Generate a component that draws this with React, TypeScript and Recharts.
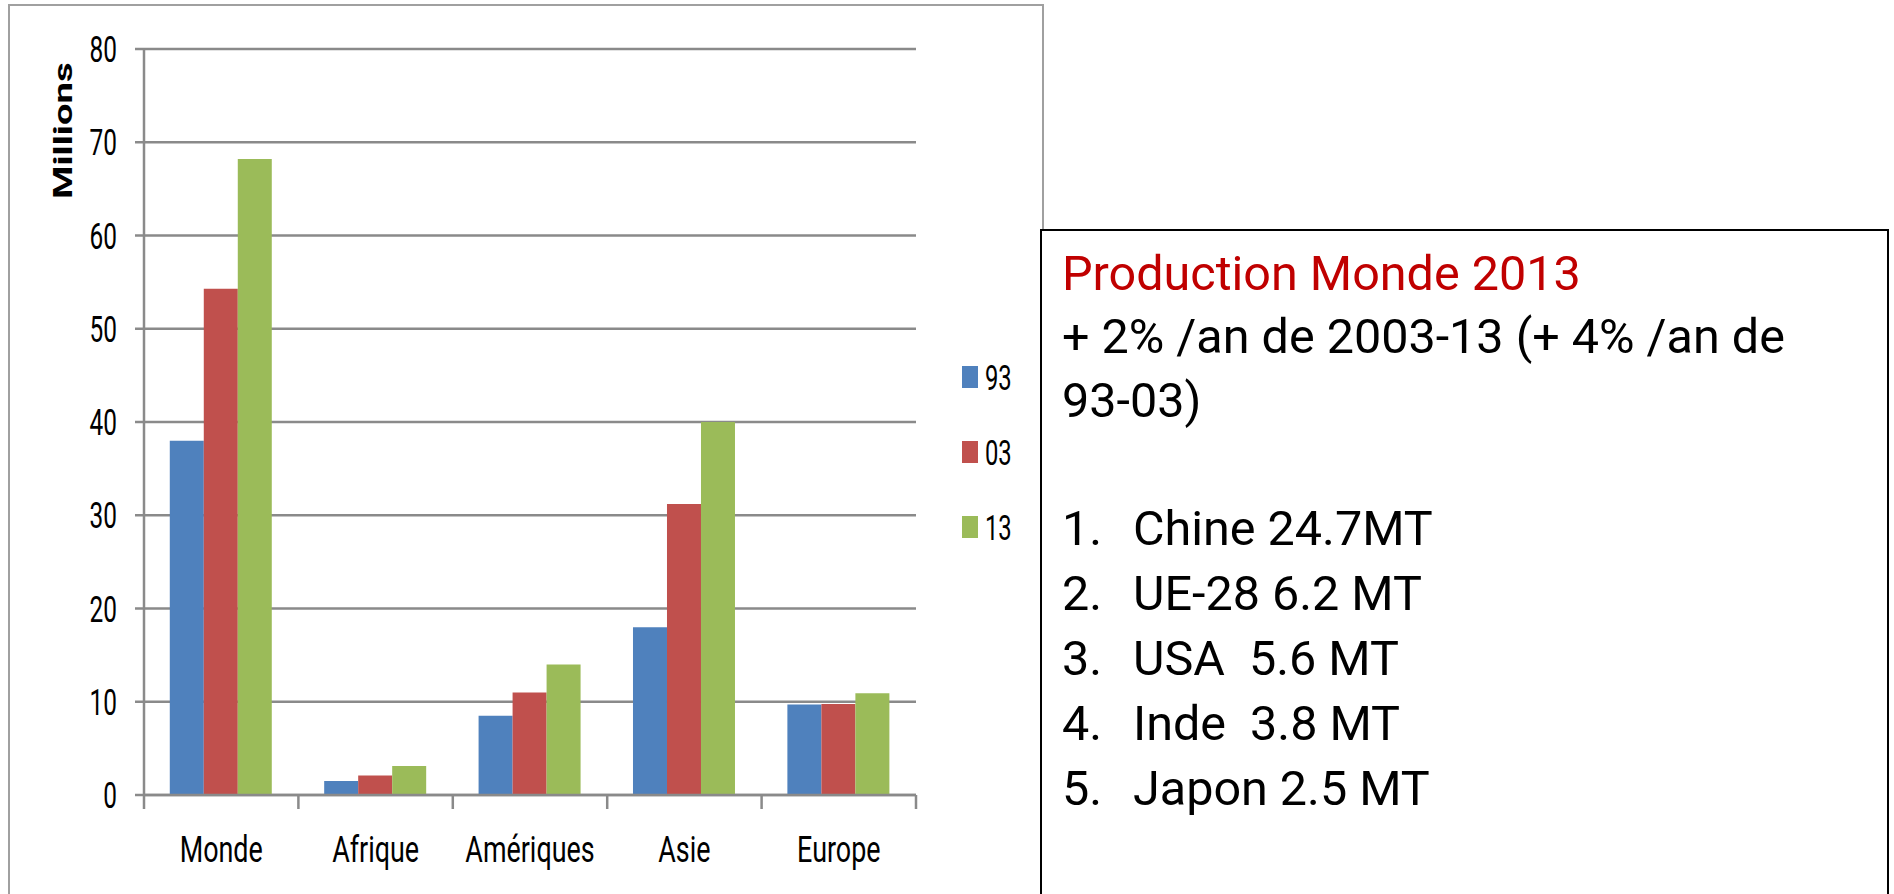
import { BarChart, Bar, XAxis, YAxis, CartesianGrid, Legend } from 'recharts';

const categories = ['Monde', 'Afrique', 'Amériques', 'Asie', 'Europe'];
const values93 = [38, 1.5, 8.5, 18, 9.7];
const values03 = [54.3, 2.1, 11, 31.2, 9.75];
const values13 = [68.2, 3.1, 14, 40, 10.9];
const yTicks = [0, 10, 20, 30, 40, 50, 60, 70, 80];

const seriesNames = ['93', '03', '13'];
const seriesColors = ['#4F81BD', '#C0504D', '#9BBB59'];
const seriesKeys = ['v93', 'v03', 'v13'];

const title = 'Production Monde 2013';
const subtitleLines = ['+ 2% /an de 2003-13 (+ 4% /an de', '93-03)'];
const rankNums = ['1.', '2.', '3.', '4.', '5.'];
const rankItems = ['Chine 24.7MT', 'UE-28 6.2 MT', 'USA  5.6 MT', 'Inde  3.8 MT', 'Japon 2.5 MT'];

const data = categories.map((cat, i) => ({
  cat,
  v93: values93[i],
  v03: values03[i],
  v13: values13[i],
}));

const GRAY = '#8a8a8a';
const FONT = 'Roboto, "Liberation Sans", sans-serif';

function CategoryTick(props: any) {
  const { x, y, payload, index } = props;
  const half = payload.offset ?? 77.2;
  const last = index === categories.length - 1;
  return (
    <g>
      <line x1={x - half} x2={x - half} y1={y} y2={y + 14} stroke={GRAY} strokeWidth={2.5} />
      {last && <line x1={x + half} x2={x + half} y1={y} y2={y + 14} stroke={GRAY} strokeWidth={2.5} />}
      <text
        transform={`translate(${x},${y + 66.7}) scale(1,1.34)`}
        textAnchor="middle"
        fontSize={26.9}
        fontFamily={FONT}
        fill="#000"
      >
        {payload.value}
      </text>
    </g>
  );
}

function ValueTick(props: any) {
  const { x, y, payload } = props;
  return (
    <text
      transform={`translate(${x},${y}) scale(1,1.52)`}
      textAnchor="end"
      dy="0.355em"
      fontSize={24.4}
      fontFamily={FONT}
      fill="#000"
    >
      {payload.value}
    </text>
  );
}

function AxisTitle(props: any) {
  const vb = props.viewBox || { x: 0, y: 49 };
  return (
    <text
      transform={`translate(${vb.x + 62.5},${vb.y + 81.7}) scale(1,1.47) rotate(-90)`}
      textAnchor="middle"
      dy="0.355em"
      fontSize={26}
      fontWeight="bold"
      fontFamily={FONT}
      fill="#000"
    >
      Millions
    </text>
  );
}

// legend drawn in series order (93, 03, 13), rows 75px apart
function LegendBox() {
  return (
    <svg width={70} height={200} style={{ display: 'block' }}>
      {seriesNames.map((name, i) => (
        <g key={name} transform={`translate(0,${10 + i * 75})`}>
          <rect x={0} y={0} width={16} height={22} fill={seriesColors[i]} />
          <text
            transform="translate(23,11) scale(1,1.48)"
            dy="0.355em"
            fontSize={23.8}
            fontFamily={FONT}
            fill="#000"
          >
            {name}
          </text>
        </g>
      ))}
    </svg>
  );
}

export default function App() {
  return (
    <div style={{ position: 'absolute', left: 0, top: 0, width: 1894, height: 894, overflow: 'hidden', background: '#fff' }}>
      <div
        style={{
          position: 'absolute',
          left: 8,
          top: 4,
          width: 1036,
          height: 1000,
          border: '2px solid #a0a0a0',
          boxSizing: 'border-box',
        }}
      />
      <div style={{ position: 'absolute', left: 0, top: 0 }}>
        <BarChart
          width={1040}
          height={894}
          data={data}
          margin={{ top: 49, right: 124, bottom: 0, left: 0 }}
          barCategoryGap="16.7%"
          barGap={0}
        >
          <CartesianGrid horizontal vertical={false} stroke={GRAY} strokeWidth={2.5} />
          <XAxis
            dataKey="cat"
            height={99}
            tickLine={false}
            tickSize={0}
            tickMargin={0}
            axisLine={{ stroke: GRAY, strokeWidth: 2.5 }}
            tick={<CategoryTick />}
            interval={0}
          />
          <YAxis
            width={144}
            domain={[0, 80]}
            ticks={yTicks}
            interval={0}
            tickSize={9}
            tickMargin={18}
            axisLine={{ stroke: GRAY, strokeWidth: 2.5 }}
            tickLine={{ stroke: GRAY, strokeWidth: 2.5 }}
            tick={<ValueTick />}
            label={{ content: <AxisTitle /> }}
          />
          <Legend
            layout="vertical"
            align="center"
            verticalAlign="middle"
            content={<LegendBox />}
            wrapperStyle={{ left: 962, top: 356, width: 70, height: 200 }}
          />
          {seriesKeys.map((k, i) => (
            <Bar key={k} dataKey={k} name={seriesNames[i]} fill={seriesColors[i]} isAnimationActive={false} />
          ))}
        </BarChart>
      </div>
      <div
        style={{
          position: 'absolute',
          left: 1040,
          top: 229,
          width: 849,
          height: 700,
          border: '2px solid #000',
          boxSizing: 'border-box',
          background: '#fff',
        }}
      />
      <svg width={1894} height={894} style={{ position: 'absolute', left: 0, top: 0, pointerEvents: 'none' }}>
        <g fontFamily={FONT} fontSize={48.5}>
          <text x={1062} y={290} fill="#C00000">{title}</text>
          {subtitleLines.map((s, i) => (
            <text key={s} x={1062} y={352.5 + i * 64} fill="#000">{s}</text>
          ))}
          {rankItems.map((s, i) => (
            <g key={s}>
              <text x={1062} y={545 + i * 65} fill="#000">{rankNums[i]}</text>
              <text x={1133} y={545 + i * 65} fill="#000" style={{ whiteSpace: 'pre' }}>{s}</text>
            </g>
          ))}
        </g>
      </svg>
    </div>
  );
}
